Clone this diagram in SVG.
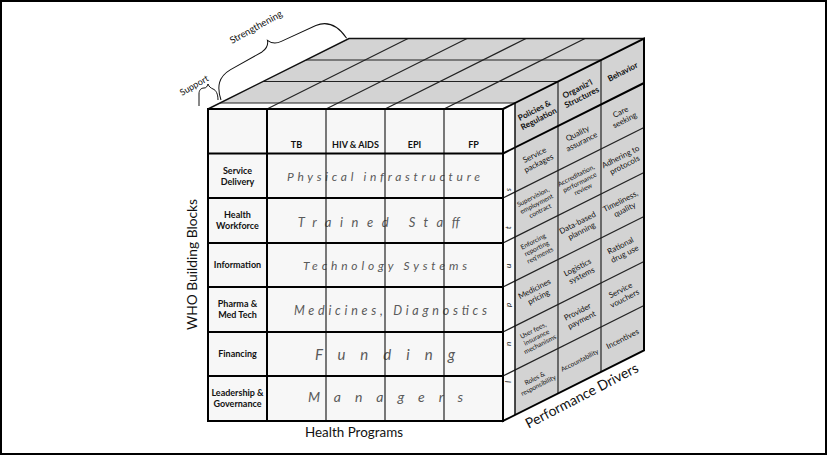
<svg xmlns="http://www.w3.org/2000/svg" width="827" height="455" viewBox="0 0 827 455">
<style>
.gray{fill:#d3d3d3}
.wht{fill:#f7f7f7}
.thick{stroke:#000;stroke-width:2;fill:none;stroke-linejoin:miter}
.med{stroke:#111;stroke-width:1.5;fill:none}
.thin{stroke:#222;stroke-width:1.2;fill:none}
.brace{stroke:#111;stroke-width:1;fill:none}
text{font-family:Lato,"Liberation Sans",sans-serif;fill:#111}
.hd{font-size:9px;font-weight:bold;text-anchor:middle}
.it{font-style:italic;fill:#5a5a5a;text-anchor:middle}
.rf{font-size:7.9px;text-anchor:middle}
.rfs{font-size:6.6px;text-anchor:middle}
.rfh{font-size:8.2px;font-weight:bold;text-anchor:middle}
.lbl{text-anchor:middle}
</style>
<rect x="1" y="1" width="825" height="453" fill="#fff" stroke="#000" stroke-width="2"/>

<g id="top-face">
  <polygon class="gray" points="220,103 349,38.5 644,38.5 515,103"/>
  <polygon fill="#fbfbfb" points="208,109 220,103 515,103 503,109"/>
  <g class="thin">
    <line x1="263" y1="81.5" x2="558" y2="81.5"/>
    <line x1="306" y1="60" x2="601" y2="60"/>
    <line x1="220" y1="103" x2="515" y2="103"/>
    <line x1="267" y1="109" x2="408" y2="38.5"/>
    <line x1="326" y1="109" x2="467" y2="38.5"/>
    <line x1="385" y1="109" x2="526" y2="38.5"/>
    <line x1="444" y1="109" x2="585" y2="38.5"/>
  </g>
  <polyline class="med" points="208,109 349,38.5 644,38.5"/>
</g>

<g id="right-face">
  <polygon class="gray" points="515,103 644,38.5 644,350.5 515,415"/>
  <polygon fill="#fbfbfb" points="503,109 515,103 515,415 503,421"/>
  <g class="thin">
    <line x1="558" y1="81.5" x2="558" y2="393.5"/>
    <line x1="601" y1="60" x2="601" y2="372"/>
    <line x1="503" y1="198" x2="644" y2="127.5"/>
    <line x1="503" y1="243" x2="644" y2="172.5"/>
    <line x1="503" y1="287" x2="644" y2="216.5"/>
    <line x1="503" y1="332" x2="644" y2="261.5"/>
    <line x1="503" y1="376" x2="644" y2="305.5"/>
  </g>
  <line class="thick" x1="503" y1="153.5" x2="644" y2="83"/>
  <line class="med" x1="515" y1="103" x2="515" y2="415"/>
  <polygon class="thick" points="503,109 644,38.5 644,350.5 503,421"/>
  <text transform="translate(511,383) rotate(-90)" font-size="8" font-style="italic" textLength="195" lengthAdjust="spacing">Inputs</text>

  <g id="rf-c0">
    <text class="rfh" transform="translate(536.5,114.5) rotate(-27)"><tspan x="0" y="-1.8">Policies &amp;</tspan><tspan x="0" y="7.6">Regulation</tspan></text>
    <text class="rf" transform="translate(536.5,159) rotate(-27)"><tspan x="0" y="-1.8">Service</tspan><tspan x="0" y="7.4">packages</tspan></text>
    <text class="rfs" transform="translate(536.5,203.75) rotate(-27)"><tspan x="0" y="-5.3">Supervision,</tspan><tspan x="0" y="2.4">employment</tspan><tspan x="0" y="10.1">contract</tspan></text>
    <text class="rfs" transform="translate(536.5,248.25) rotate(-27)"><tspan x="0" y="-5.3">Enforcing</tspan><tspan x="0" y="2.4">reporting</tspan><tspan x="0" y="10.1">req'ments</tspan></text>
    <text class="rf" transform="translate(536.5,292.75) rotate(-27)"><tspan x="0" y="-1.8">Medicines</tspan><tspan x="0" y="7.4">pricing</tspan></text>
    <text class="rfs" transform="translate(536.5,337.25) rotate(-27)"><tspan x="0" y="-5.3">User fees,</tspan><tspan x="0" y="2.4">insurance</tspan><tspan x="0" y="10.1">mechanisms</tspan></text>
    <text class="rfs" transform="translate(536.5,381.75) rotate(-27)"><tspan x="0" y="-1.6">Roles &amp;</tspan><tspan x="0" y="6.3">responsibility</tspan></text>
  </g>
  <g id="rf-c1">
    <text class="rfh" transform="translate(579.5,93) rotate(-27)"><tspan x="0" y="-1.8">Organiz'l</tspan><tspan x="0" y="7.6">Structures</tspan></text>
    <text class="rf" transform="translate(579.5,137.5) rotate(-27)"><tspan x="0" y="-1.8">Quality</tspan><tspan x="0" y="7.4">assurance</tspan></text>
    <text class="rfs" transform="translate(579.5,182.25) rotate(-27)"><tspan x="0" y="-5.3">Accreditation,</tspan><tspan x="0" y="2.4">performance</tspan><tspan x="0" y="10.1">review</tspan></text>
    <text class="rf" transform="translate(579.5,226.75) rotate(-27)"><tspan x="0" y="-1.8">Data-based</tspan><tspan x="0" y="7.4">planning</tspan></text>
    <text class="rf" transform="translate(579.5,271.25) rotate(-27)"><tspan x="0" y="-1.8">Logistics</tspan><tspan x="0" y="7.4">systems</tspan></text>
    <text class="rf" transform="translate(579.5,315.75) rotate(-27)"><tspan x="0" y="-1.8">Provider</tspan><tspan x="0" y="7.4">payment</tspan></text>
    <text class="rfs" transform="translate(579.5,360.25) rotate(-27)"><tspan x="0" y="2.4">Accountability</tspan></text>
  </g>
  <g id="rf-c2">
    <text class="rfh" transform="translate(622.5,71.5) rotate(-27)" font-size="9"><tspan x="0" y="3.2">Behavior</tspan></text>
    <text class="rf" transform="translate(622.5,116) rotate(-27)"><tspan x="0" y="-1.8">Care</tspan><tspan x="0" y="7.4">seeking</tspan></text>
    <text class="rf" transform="translate(622.5,160.75) rotate(-27)"><tspan x="0" y="-1.8">Adhering to</tspan><tspan x="0" y="7.4">protocols</tspan></text>
    <text class="rf" transform="translate(622.5,205.25) rotate(-27)"><tspan x="0" y="-1.8">Timeliness,</tspan><tspan x="0" y="7.4">quality</tspan></text>
    <text class="rf" transform="translate(622.5,249.75) rotate(-27)"><tspan x="0" y="-1.8">Rational</tspan><tspan x="0" y="7.4">drug use</tspan></text>
    <text class="rf" transform="translate(622.5,294.25) rotate(-27)"><tspan x="0" y="-1.8">Service</tspan><tspan x="0" y="7.4">vouchers</tspan></text>
    <text class="rf" transform="translate(622.5,338.75) rotate(-27)"><tspan x="0" y="2.8">Incentives</tspan></text>
  </g>
</g>

<g id="front-face">
  <rect class="wht" x="208" y="109" width="295" height="312"/>
  <g id="programs">
    <text class="hd" x="296.5" y="147.5">TB</text>
    <text class="hd" x="355.5" y="147.5">HIV &amp; AIDS</text>
    <text class="hd" x="414.5" y="147.5">EPI</text>
    <text class="hd" x="473.5" y="147.5">FP</text>
  </g>
  <g id="building-blocks">
    <text class="hd"><tspan x="237.5" y="173.5">Service</tspan><tspan x="237.5" y="184.5">Delivery</tspan></text>
    <text class="hd"><tspan x="237.5" y="218">Health</tspan><tspan x="237.5" y="229">Workforce</tspan></text>
    <text class="hd" x="237.5" y="268">Information</text>
    <text class="hd"><tspan x="237.5" y="307">Pharma &amp;</tspan><tspan x="237.5" y="318">Med Tech</tspan></text>
    <text class="hd" x="237.5" y="357">Financing</text>
    <text class="hd"><tspan x="237.5" y="396">Leadership &amp;</tspan><tspan x="237.5" y="407">Governance</tspan></text>
  </g>
  <g id="inputs">
    <text class="it" x="383.5" y="181" font-size="12" textLength="193" lengthAdjust="spacing">Physical infrastructure</text>
    <text class="it" x="379" y="227" font-size="13" textLength="162" lengthAdjust="spacing">Trained Staff</text>
    <text class="it" x="385" y="270" font-size="12" textLength="164" lengthAdjust="spacing">Technology Systems</text>
    <text class="it" x="390.5" y="315" font-size="12.5" textLength="193" lengthAdjust="spacing">Medicines, Diagnostics</text>
    <text class="it" x="385" y="360" font-size="15" textLength="140" lengthAdjust="spacing">Funding</text>
    <text class="it" x="385.5" y="402" font-size="14" textLength="155" lengthAdjust="spacing">Managers</text>
  </g>
  <g class="thin">
    <line x1="326" y1="109" x2="326" y2="421"/>
    <line x1="385" y1="109" x2="385" y2="421"/>
    <line x1="444" y1="109" x2="444" y2="421"/>
  </g>
  <g class="thick">
    <line x1="267" y1="109" x2="267" y2="421"/>
    <line x1="208" y1="153.5" x2="503" y2="153.5"/>
    <line x1="208" y1="198" x2="503" y2="198"/>
    <line x1="208" y1="243" x2="503" y2="243"/>
    <line x1="208" y1="287" x2="503" y2="287"/>
    <line x1="208" y1="332" x2="503" y2="332"/>
    <line x1="208" y1="376" x2="503" y2="376"/>
    <rect x="208" y="109" width="295" height="312"/>
  </g>
</g>

<g id="connectors">
  <path class="brace" d="M199,106 L199,94 C199,90 201,88 204,88 C206,88 207,87 208,84 C209,87 211,88 213,89 C216,90 218,94 218,100"/>
  <path class="brace" transform="translate(221,100) rotate(-26.2)" d="M0,0 C2,-14 8,-22 22,-23 L58,-25 C64,-26 67,-29 68,-33 C70,-29 74,-26 80,-26 L118,-25 C132,-24 138,-14 140,0"/>
</g>

<g id="labels">
  <text transform="translate(182,96) rotate(-30)" font-size="9">Support</text>
  <text transform="translate(232,44) rotate(-29)" font-size="9.5">Strengthening</text>
  <text class="lbl" transform="translate(197,264.5) rotate(-90)" font-size="14" textLength="131" lengthAdjust="spacingAndGlyphs">WHO Building Blocks</text>
  <text class="lbl" x="354" y="437" font-size="13" textLength="98" lengthAdjust="spacingAndGlyphs">Health Programs</text>
  <text class="lbl" transform="translate(584,400) rotate(-27.5)" font-size="14" textLength="125" lengthAdjust="spacingAndGlyphs">Performance Drivers</text>
</g>
</svg>
